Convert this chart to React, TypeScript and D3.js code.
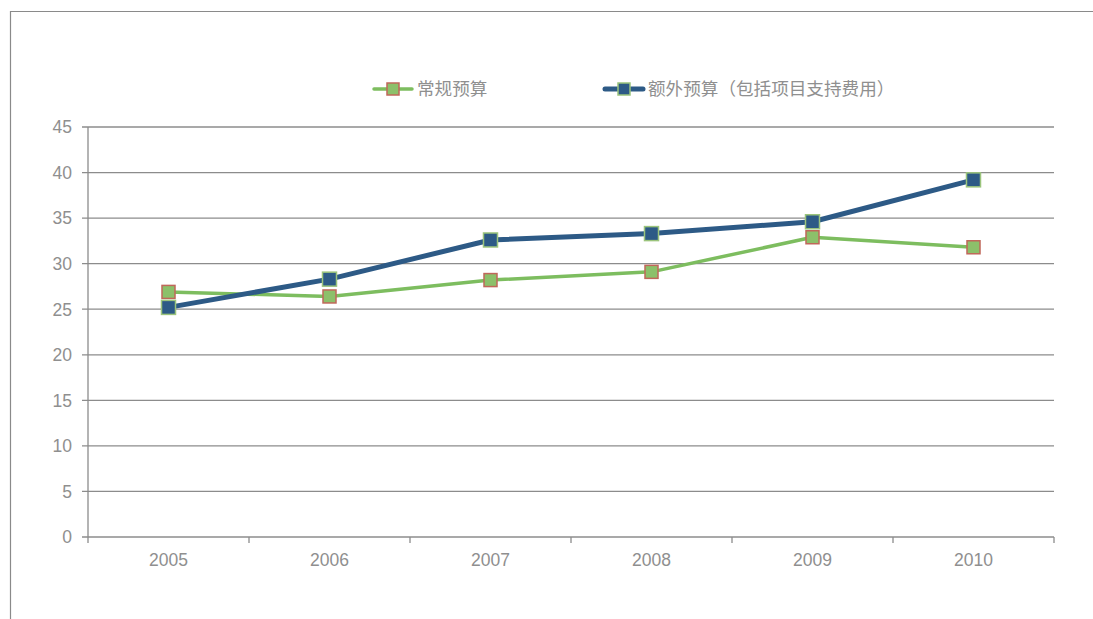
import React from "react";
import * as d3 from "d3";

const years = ["2005", "2006", "2007", "2008", "2009", "2010"];
const regularBudget = [26.9, 26.4, 28.2, 29.1, 32.9, 31.8];
const extraBudget = [25.2, 28.3, 32.6, 33.3, 34.6, 39.2];
const yTicks = [0, 5, 10, 15, 20, 25, 30, 35, 40, 45];
const seriesNames = ["常规预算", "额外预算（包括项目支持费用）"];

const W = 1093;
const H = 619;
const left = 88, right = 1054, top = 127, bottom = 537;

export default function App() {
  const x = d3.scaleBand<string>().domain(years).range([left, right]);
  const y = d3.scaleLinear().domain([0, 45]).range([bottom, top]);
  const line = d3
    .line<number>()
    .x((_, i) => (x(years[i]) as number) + x.bandwidth() / 2)
    .y((d) => y(d));
  const font = "'Liberation Sans', Arial, sans-serif";
  const grey = "#8c8c8c";
  const series = [
    { name: seriesNames[0], data: regularBudget, color: "#7dbd5f", width: 3.5, mFill: "#8cc06a", mStroke: "#c0675a", ms: 13 },
    { name: seriesNames[1], data: extraBudget, color: "#2d5a86", width: 5, mFill: "#2d5a86", mStroke: "#9bc47c", ms: 14 },
  ];
  const legendX = [374, 605];
  return (
    <svg width={W} height={H} style={{ position: "absolute", left: 0, top: 0 }}>
      <rect x={0} y={0} width={W} height={H} fill="#fff" />
      <path d={`M10.5,${H} V11.5 H${W}`} fill="none" stroke="#8a8a8a" strokeWidth={1.2} />
      {yTicks.map((t) => (
        <g key={t}>
          <line x1={82} x2={right} y1={y(t)} y2={y(t)} stroke={grey} strokeWidth={1.3} />
          <text x={72} y={y(t)} dy="0.36em" textAnchor="end" fontFamily={font} fontSize={17.5} fill="#8f8f8f">
            {t}
          </text>
        </g>
      ))}
      <line x1={left} x2={left} y1={top} y2={bottom + 6} stroke={grey} strokeWidth={1.3} />
      {years.map((yr, i) => (
        <line key={"t" + i} x1={(x(yr) as number) + x.bandwidth()} x2={(x(yr) as number) + x.bandwidth()} y1={bottom} y2={bottom + 6} stroke={grey} strokeWidth={1.3} />
      ))}
      {years.map((yr) => (
        <text key={yr} x={(x(yr) as number) + x.bandwidth() / 2} y={566} textAnchor="middle" fontFamily={font} fontSize={17.5} fill="#8f8f8f">
          {yr}
        </text>
      ))}
      {series.map((s) => (
        <g key={s.name}>
          <path d={line(s.data) || ""} fill="none" stroke={s.color} strokeWidth={s.width} strokeLinejoin="round" />
          {s.data.map((v, i) => (
            <rect
              key={i}
              x={(x(years[i]) as number) + x.bandwidth() / 2 - s.ms / 2}
              y={y(v) - s.ms / 2}
              width={s.ms}
              height={s.ms}
              fill={s.mFill}
              stroke={s.mStroke}
              strokeWidth={1.5}
            />
          ))}
        </g>
      ))}
      {series.map((s, i) => (
        <g key={"l" + i}>
          <line x1={legendX[i]} x2={legendX[i] + 38} y1={89} y2={89} stroke={s.color} strokeWidth={s.width} strokeLinecap="round" />
          <rect x={legendX[i] + 19 - 6} y={89 - 6} width={12} height={12} fill={s.mFill} stroke={s.mStroke} strokeWidth={1.5} />
          <text x={legendX[i] + 43} y={89} dy="0.36em" fontFamily="'Noto Sans CJK SC', sans-serif" fontSize={17.6} fill="#8f8f8f">
            {s.name}
          </text>
        </g>
      ))}
    </svg>
  );
}
